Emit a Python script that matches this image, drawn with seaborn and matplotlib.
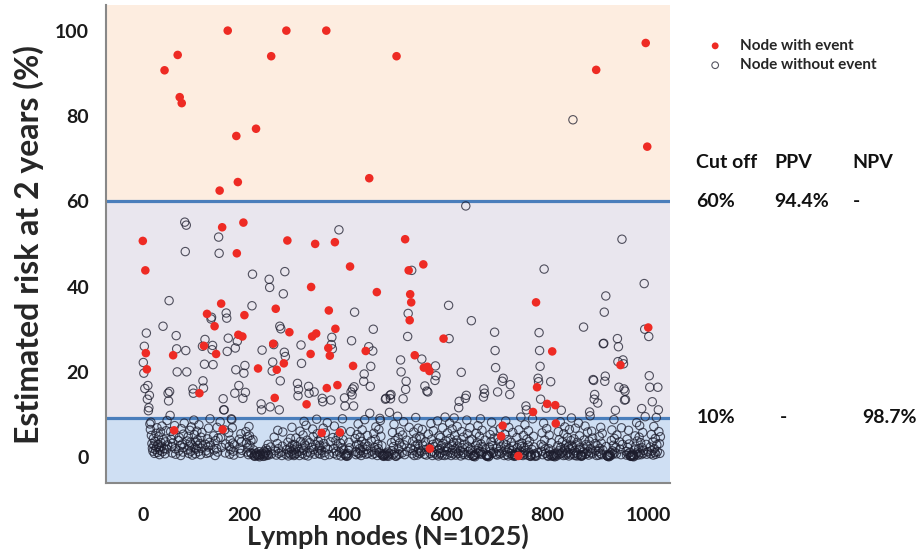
import pandas as pd
import matplotlib.pyplot as plt
import seaborn as sns

n_nodes = 1025

# nodes with an event (node number, estimated risk %)
event_node = [0, 5, 6, 8, 43, 60, 62, 69, 73, 77,
              112, 121, 127, 142, 145, 152, 155, 157, 158, 168,
              185, 186, 188, 189, 197, 199, 201, 224, 228, 254,
              258, 261, 263, 265, 279, 284, 286, 290, 324, 332,
              333, 335, 341, 343, 354, 363, 364, 367, 368, 370,
              380, 381, 385, 390, 410, 416, 441, 448, 463, 502,
              519, 526, 528, 529, 531, 538, 555, 556, 563, 567,
              568, 595, 709, 712, 743, 772, 778, 780, 800, 810,
              816, 817, 897, 945, 995, 998, 1000]
event_risk = [50.7, 43.8, 24.4, 20.6, 90.7, 23.9, 6.3, 94.3, 84.4, 83.0,
              15.0, 26.1, 33.6, 30.7, 24.2, 62.5, 36.0, 53.9, 6.5, 100.0,
              75.3, 47.8, 64.5, 28.7, 28.3, 55.0, 33.3, 77.0, 20.8, 94.0,
              26.6, 13.9, 34.8, 20.5, 22.0, 100.0, 50.8, 29.3, 12.4, 24.2,
              39.9, 28.3, 50.0, 29.0, 5.7, 100.0, 16.2, 25.6, 34.4, 23.8,
              50.4, 30.1, 16.9, 5.8, 44.7, 21.4, 24.9, 65.4, 38.7, 94.0,
              51.1, 43.8, 32.1, 38.2, 36.3, 23.9, 45.2, 21.0, 21.2, 20.2,
              2.0, 27.8, 4.9, 7.4, 0.3, 10.6, 36.3, 16.4, 12.5, 24.8,
              12.2, 7.9, 90.8, 21.6, 97.1, 72.8, 30.4]

# nodes without event, risk % in node order (the remaining node numbers)
open_risk = [
    # 0-49
    22.2, 19.7, 26.0, 16.1, 29.1, 13.6, 16.8, 10.9, 11.6, 14.5, 7.8, 6.5, 8.2, 5.1, 3.2,
    2.1, 1.4, 4.4, 2.8, 0.9, 3.7, 1.8, 5.6, 2.4, 6.9, 1.1, 3.0, 4.8, 2.2, 0.6,
    1.6, 5.9, 3.4, 2.6, 7.3, 1.3, 30.7, 4.1, 2.0, 0.8, 3.6, 6.2, 1.9, 8.6, 2.9,
    # 50-99
    15.0, 13.2, 36.7, 15.4, 9.8, 6.0, 4.2, 2.5, 1.0, 3.3, 5.2, 7.4, 2.0, 0.7, 28.5,
    25.4, 20.0, 3.9, 1.5, 4.6, 2.7, 0.4, 6.7, 3.1, 1.2, 5.4, 2.3, 8.0, 55.1, 48.2,
    25.0, 54.4, 20.0, 3.8, 1.7, 4.9, 0.9, 2.6, 6.3, 3.5, 1.4, 7.1, 2.9, 0.5, 16.0,
    # 100-149
    15.0, 8.7, 5.3, 2.2, 0.8, 3.6, 1.9, 6.1, 4.0, 2.7, 1.3, 7.6, 3.2, 0.6, 4.7,
    2.1, 5.8, 26.0, 17.9, 16.2, 21.8, 27.6, 3.0, 1.5, 0.9, 4.3, 2.4, 6.8, 1.1, 3.5,
    9.0, 2.8, 32.4, 32.8, 25.2, 26.2, 21.7, 5.0, 1.7, 0.4, 3.9, 2.0, 7.0, 1.2, 4.5,
    # 150-199
    51.6, 47.8, 8.3, 4.6, 2.3, 13.7, 11.1, 11.1, 6.4, 1.0, 3.1, 33.8, 32.6, 24.8, 27.9,
    5.7, 2.5, 0.7, 4.0, 1.8, 9.0, 8.8, 6.9, 3.3, 1.4, 0.5, 2.9, 15.0, 25.6, 20.5,
    27.2, 16.8, 4.2, 2.0, 0.9, 5.5, 3.6, 1.6, 13.8,
    # 200-249
    19.7, 21.5, 15.2, 6.0, 3.4, 1.2, 4.8, 2.2, 0.6, 7.2, 5.0, 2.7, 1.1, 3.9, 0.8,
    35.5, 42.9, 4.1, 1.7, 0.3, 0.5, 0.2, 0.8, 1.0, 0.4, 0.6, 0.3, 1.3, 0.1, 0.7,
    0.5, 12.5, 11.1, 25.1, 0.9, 0.2, 0.6, 1.4, 0.3, 0.8, 1.1, 2.0, 0.4, 1.6, 0.7,
    3.0, 0.5,
    # 250-299
    41.7, 39.8, 11.8, 2.4, 0.8, 20.2, 22.3, 26.4, 4.7, 1.5, 0.5, 3.2, 6.3, 2.0, 0.9,
    11.1, 30.7, 17.9, 30.1, 1.2, 0.4, 2.6, 5.9, 38.3, 24.6, 43.5, 23.6, 0.7, 1.8, 3.5,
    0.3, 1.0, 2.2, 4.4, 0.6, 1.4, 7.0, 2.9, 0.8, 1.7, 0.4,
    # 300-349
    3.0, 0.6, 1.9, 4.5, 0.9, 2.5, 17.3, 14.4, 15.9, 1.3, 0.4, 6.1, 3.7, 26.3, 22.0,
    2.1, 0.8, 5.2, 1.6, 8.4, 3.1, 0.5, 2.7, 7.5, 4.0, 1.2, 0.3, 16.6, 15.0, 3.4,
    1.0, 2.3, 6.6, 4.8, 1.8, 15.3, 0.7, 2.9, 8.9, 5.5, 1.5, 3.8, 0.9, 2.2,
    # 350-399
    2.8, 0.7, 4.3, 1.6, 13.8, 13.0, 6.8, 3.2, 1.1, 0.4, 5.7, 2.4, 8.1, 1.9, 0.6,
    3.6, 13.4, 26.4, 28.1, 25.4, 4.6, 2.0, 0.9, 7.3, 3.9, 1.4, 0.5, 2.6, 5.0, 53.3,
    1.2, 3.3, 0.3, 6.2, 2.1, 9.0, 4.1, 1.7, 0.8, 13.9,
    # 400-449
    12.0, 0.5, 0.3, 0.7, 0.2, 0.9, 0.4, 1.6, 3.5, 2.2, 6.0, 15.3, 27.3, 14.6, 16.0,
    12.0, 16.5, 34.0, 4.4, 1.3, 0.6, 2.9, 5.3, 1.0, 7.8, 3.0, 0.8, 2.0, 4.7, 1.5,
    0.4, 3.7, 6.4, 2.4, 1.1, 17.8, 19.5, 8.8, 3.1, 0.7, 1.8, 5.1, 2.6, 0.9, 25.9,
    10.3,
    # 450-499
    16.6, 21.3, 3.8, 1.4, 0.6, 24.9, 30.0, 5.6, 2.3, 0.9, 4.2, 7.1, 1.7, 0.4, 3.0,
    2.0, 6.5, 1.1, 9.1, 8.6, 4.9, 0.8, 2.7, 0.5, 0.3, 0.6, 0.2, 0.4, 0.7, 13.6,
    13.8, 0.9, 0.3, 0.5, 1.2, 0.2, 0.8, 10.5, 14.5, 13.7, 14.7, 3.4, 1.5, 5.8, 0.6,
    2.5, 7.7, 1.0, 3.9,
    # 500-549
    0.3, 0.2, 0.5, 9.6, 4.6, 1.9, 0.7, 3.3, 6.0, 22.8, 20.0, 2.4, 1.0, 5.2, 13.7,
    8.3, 2.9, 0.6, 15.9, 17.8, 4.0, 1.4, 28.3, 33.7, 7.0, 2.1, 43.8, 0.8, 3.7, 1.6,
    5.9, 0.4, 2.6, 9.3, 4.5, 1.2, 0.5, 3.1, 6.8, 2.0, 0.9, 4.8, 1.5,
    # 550-599
    4.3, 1.2, 23.0, 6.5, 2.8, 0.7, 16.7, 3.6, 1.8, 0.5, 15.5, 15.3, 5.4, 2.2, 0.9,
    7.9, 4.1, 1.3, 0.4, 3.0, 6.2, 2.5, 1.0, 18.0, 21.4, 19.1, 0.6, 3.4, 8.5, 1.7,
    0.3, 5.0, 2.0, 0.8, 4.6, 1.1, 2.7, 0.5, 6.9, 3.2, 1.5, 0.4, 9.4, 2.4,
    # 600-649
    3.8, 1.4, 0.6, 5.7, 2.3, 35.6, 27.8, 8.0, 4.4, 1.0, 0.4, 2.9, 6.6, 1.7, 0.8,
    3.5, 9.2, 5.1, 2.0, 0.5, 1.2, 4.0, 7.2, 2.6, 0.9, 11.6, 13.1, 3.3, 1.5, 0.3,
    19.9, 6.0, 2.2, 0.7, 4.7, 1.1, 3.0, 0.6, 13.8, 58.9, 14.5, 8.7, 5.5, 2.4, 1.3,
    0.4, 3.9, 6.9, 1.8, 0.8,
    # 650-699
    32.0, 4.2, 1.6, 0.3, 0.2, 0.5, 0.4, 0.1, 0.6, 2.8, 5.6, 1.0, 3.4, 7.4, 2.1,
    0.8, 4.9, 1.3, 9.0, 3.1, 0.7, 6.3, 2.5, 1.1, 14.1, 16.0, 15.0, 4.0, 1.9, 0.5,
    0.3, 0.2, 0.4, 0.6, 0.1, 0.3, 2.3, 5.3, 1.4, 3.7, 8.2, 0.9, 2.7, 6.1, 1.2,
    4.5, 29.3, 25.0, 21.0, 0.7,
    # 700-749
    2.1, 0.5, 15.3, 4.3, 1.3, 3.6, 0.8, 6.7, 2.4, 1.0, 17.8, 18.5, 3.2, 0.4, 5.4,
    1.7, 8.5, 2.9, 0.6, 4.1, 1.2, 0.3, 7.0, 2.0, 14.7, 17.0, 0.9, 3.5, 1.5, 0.4,
    5.8, 2.6, 0.7, 0.2, 0.5, 0.3, 0.6, 1.1, 4.6, 2.2, 0.8, 6.4, 3.0, 1.4, 0.5,
    9.4, 2.5,
    # 750-799
    3.3, 1.0, 0.4, 5.1, 2.2, 0.7, 7.6, 1.6, 12.0, 11.1, 4.2, 0.5, 2.8, 6.2, 1.2,
    3.7, 0.3, 0.2, 0.6, 0.4, 1.8, 9.0, 4.9, 2.4, 0.8, 0.2, 0.5, 0.3, 1.1, 18.5,
    17.7, 29.2, 25.0, 21.3, 13.6, 3.0, 1.4, 5.7, 0.6, 2.6, 8.0, 44.1, 4.0, 1.9, 0.9,
    11.5, 6.7,
    # 800-849
    0.4, 0.2, 2.0, 5.2, 1.3, 0.6, 17.7, 3.4, 0.3, 0.5, 0.2, 0.8, 0.4, 0.1, 0.6,
    0.3, 1.0, 2.7, 6.0, 1.5, 4.1, 0.7, 8.3, 2.3, 11.0, 0.9, 3.6, 1.2, 0.4, 5.5,
    2.0, 7.1, 1.6, 0.5, 3.1, 0.8, 4.6, 1.1, 2.5, 0.3, 6.5, 1.9, 0.6, 3.9, 9.2,
    2.8,
    # 850-899
    2.4, 79.1, 0.8, 4.3, 1.5, 0.4, 6.8, 2.9, 1.0, 0.3, 3.5, 0.6, 8.0, 1.8, 5.0,
    2.2, 0.5, 0.2, 0.4, 0.3, 0.6, 1.2, 30.5, 4.0, 1.9, 7.3, 0.7, 3.0, 0.9, 2.6,
    5.9, 1.4, 0.5, 3.8, 10.6, 9.7, 2.0, 1.1, 6.1, 0.8, 4.5, 18.2, 18.0, 13.6, 14.7,
    3.2, 1.6, 0.4, 2.7,
    # 900-949
    12.7, 1.3, 0.5, 4.8, 2.1, 0.9, 7.0, 3.3, 0.6, 5.6, 1.7, 26.6, 26.7, 34.0, 17.8,
    19.0, 37.8, 2.5, 0.4, 0.3, 0.2, 0.5, 0.1, 0.4, 0.6, 0.3, 1.0, 3.9, 6.4, 1.5,
    0.7, 2.8, 8.8, 4.4, 1.2, 11.0, 2.3, 0.8, 5.2, 27.8, 22.4, 25.9, 16.4, 3.6, 1.9,
    0.6, 6.9, 51.1, 3.0,
    # 950-999
    22.8, 21.9, 16.0, 13.4, 15.5, 13.5, 1.4, 0.5, 4.2, 2.3, 0.8, 6.3, 3.1, 1.1, 0.4,
    0.2, 0.3, 0.5, 0.2, 0.6, 0.4, 0.1, 0.3, 1.7, 5.0, 2.6, 0.7, 8.1, 3.8, 1.2,
    0.5, 2.0, 4.7, 7.4, 1.0, 3.4, 0.6, 11.4, 2.2, 5.8, 0.9, 1.6, 40.7, 30.0, 9.5,
    3.0, 0.7, 1.3,
    # 1000-1024
    28.3, 19.1, 16.4, 2.4, 0.8, 5.3, 1.5, 13.0, 3.6, 0.5, 7.2, 2.0, 1.1, 4.4, 0.7,
    9.3, 2.9, 1.3, 16.4, 11.1, 6.0, 3.2, 0.9, 4.8,
]

# risk zones and cut-off lines
zone_limits = [(60, 110), (9.2, 60), (-10, 9.2)]
zone_colors = ["#fdede0", "#e9e6ee", "#cfdff3"]
cutoff_lines = [60, 9.2]

table_rows = [["Cut off", "PPV", "NPV"],
              ["60%", "94.4%", "-"],
              ["10%", "-", "98.7%"]]

event_set = set(event_node)
open_node = [n for n in range(n_nodes) if n not in event_set]
df_open = pd.DataFrame({"node": open_node, "risk": open_risk[:len(open_node)]})
df_event = pd.DataFrame({"node": event_node, "risk": event_risk})

sns.set_style("white")
plt.rcParams["font.family"] = ["Lato", "DejaVu Sans"]

fig = plt.figure(figsize=(9.21, 5.58), dpi=100)
ax = fig.add_axes([0.115, 0.134, 0.613, 0.857])

for (lo, hi), c in zip(zone_limits, zone_colors):
    ax.axhspan(lo, hi, color=c, lw=0, zorder=0)
for yv in cutoff_lines:
    ax.axhline(yv, color="#4a7ebb", lw=2.3, zorder=2)

sns.scatterplot(data=df_open, x="node", y="risk", ax=ax, s=36,
                facecolors="none", edgecolor="#1c1c2c", linewidth=0.8,
                alpha=0.75, label="Node without event", zorder=3)
sns.scatterplot(data=df_event, x="node", y="risk", ax=ax, s=38,
                color="#ee2b24", edgecolor="none", linewidth=0,
                label="Node with event", zorder=4)

ax.set_xlim(-73, 1044)
ax.set_ylim(-6.1, 106)
ax.set_xticks([0, 200, 400, 600, 800, 1000])
ax.set_yticks([0, 20, 40, 60, 80, 100])
ax.tick_params(axis="both", labelsize=14, length=5, width=1, color="#888888",
               direction="out", labelcolor="#1a1a1a")
ax.tick_params(axis="x", pad=12)
ax.tick_params(axis="y", pad=7)
for lab in ax.get_xticklabels() + ax.get_yticklabels():
    lab.set_fontweight("bold")
for side in ["top", "right"]:
    ax.spines[side].set_visible(False)
for side in ["left", "bottom"]:
    ax.spines[side].set_color("#888888")
    ax.spines[side].set_linewidth(1.5)

ax.set_xlabel("Lymph nodes (N=1025)", fontsize=19.5, fontweight="bold", labelpad=0)
ax.set_ylabel("Estimated risk at 2 years (%)", fontsize=23, fontweight="bold", labelpad=8)

handles, labels = ax.get_legend_handles_labels()
ax.get_legend().remove()
order = [labels.index("Node with event"), labels.index("Node without event")]
fig.legend([handles[i] for i in order], [labels[i] for i in order],
           loc="upper left", bbox_to_anchor=(0.745, 0.955), frameon=False,
           markerscale=0.8, handletextpad=0.6, labelspacing=0.35,
           prop={"weight": "bold", "size": 11})

col_x = [0.756, 0.841, 0.926]
row_y = [0.708, 0.638, 0.251]
for r, row in enumerate(table_rows):
    for c, txt in enumerate(row):
        x = col_x[c]
        if r == 2 and c == 1:
            x = 0.847
        if r == 2 and c == 2:
            x = 0.936
        fig.text(x, row_y[r], txt, fontsize=14, fontweight="bold",
                 ha="left", va="center", color="#111111")

fig.savefig("out.png", dpi=100)
